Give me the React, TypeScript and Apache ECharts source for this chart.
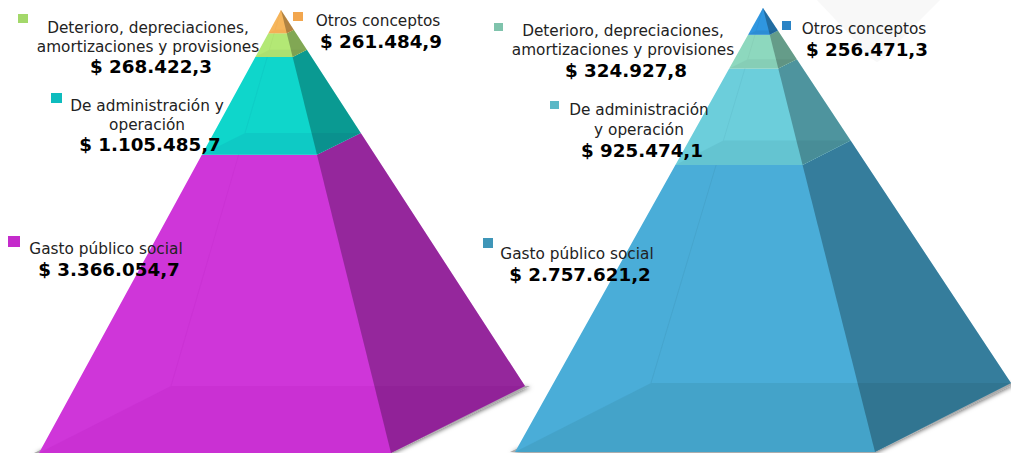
import React, { useEffect, useRef } from "react";
import * as echarts from "echarts";

// Bottom-to-top stacking order
const leftValues = [3366054.7, 1105485.7, 268422.3, 261484.9];
const rightValues = [2757621.2, 925474.1, 324927.8, 256471.3];
const leftValueLabels = ["$ 3.366.054,7", "$ 1.105.485,7", "$ 268.422,3", "$ 261.484,9"];
const rightValueLabels = ["$ 2.757.621,2", "$ 925.474,1", "$ 324.927,8", "$ 256.471,3"];
const leftNames = [["Gasto público social"], ["De administración y", "operación"], ["Deterioro, depreciaciones,", "amortizaciones y provisiones"], ["Otros conceptos"]];
const rightNames = [["Gasto público social"], ["De administración", "y operación"], ["Deterioro, depreciaciones,", "amortizaciones y provisiones"], ["Otros conceptos"]];
const leftColors = ["#CF36D9", "#0FD6CB", "#B3E875", "#F6B65C"];
const rightColors = ["#4AADD8", "#6CCEDB", "#8DD8BE", "#2F96E0"];
const leftSwatches = ["#C42BCB", "#0EBCBE", "#A3D86A", "#F2A64E"];
const rightSwatches = ["#3F96B8", "#5BB8C6", "#7FC3AC", "#2A83C5"];

// Layout: pixel frame of each pyramid and its text blocks
const leftFrame = { apex: 281, fl: 39, fr: 391, br: 525, bl: 171, top: 10, bottom: 453, back: 386 };
const rightFrame = { apex: 763, fl: 515, fr: 875, br: 1011, bl: 651, top: 8, bottom: 452, back: 383 };
const leftLayout = [
  { sw: [8, 236, 12, 11], x: [106], y: [249], vx: 109, vy: 269 },
  { sw: [51, 93, 11, 10], x: [147, 147], y: [106, 125], vx: 150, vy: 144 },
  { sw: [18, 14, 10, 9], x: [148, 148], y: [28, 47], vx: 151, vy: 66 },
  { sw: [293, 12, 10, 9], x: [378], y: [21], vx: 381, vy: 41 },
];
const rightLayout = [
  { sw: [483, 238, 10, 10], x: [577], y: [254], vx: 580, vy: 274 },
  { sw: [550, 101, 9, 8], x: [639, 639], y: [110, 130], vx: 642, vy: 150 },
  { sw: [494, 23, 9, 8], x: [623, 623], y: [31, 50], vx: 626, vy: 70 },
  { sw: [782, 21, 9, 9], x: [864], y: [29], vx: 867, vy: 49 },
];
const W = 1011;
const H = 453;
const FONT = "'DejaVu Sans', Verdana, sans-serif";

function pyramidSeries(values: number[], colors: string[], swatches: string[], f: any, gridIndex: number) {
  const total = values.reduce((a, b) => a + b, 0);
  const w = f.br - f.fl;
  const apexX = (f.apex - f.fl) / w;
  const corner = {
    fl: [0, 1],
    fr: [(f.fr - f.fl) / w, 1],
    br: [1, (f.back - f.top) / (f.bottom - f.top)],
    bl: [(f.bl - f.fl) / w, (f.back - f.top) / (f.bottom - f.top)],
  };
  let acc = total;
  const rows = values.map((v, i) => {
    const start = acc; // lower edge, measured from the apex
    acc -= v;
    return [i, acc, start];
  });
  return {
    type: "custom",
    coordinateSystem: "cartesian2d",
    xAxisIndex: gridIndex,
    yAxisIndex: gridIndex,
    clip: false,
    silent: true,
    data: rows,
    renderItem: (_: any, api: any) => {
      const i = api.value(0);
      const t0 = api.value(1) / total;
      const t1 = api.value(2) / total;
      const pt = (c: number[], t: number) =>
        api.coord([apexX + t * (c[0] - apexX), t * c[1] * total]);
      const FLb = pt(corner.fl, t1), FRb = pt(corner.fr, t1), BRb = pt(corner.br, t1), BLb = pt(corner.bl, t1);
      const FLt = pt(corner.fl, t0), FRt = pt(corner.fr, t0), BRt = pt(corner.br, t0), BLt = pt(corner.bl, t0);
      const children: any[] = [];
      if (i === 0) {
        children.push({
          type: "polygon",
          shape: { points: [[FLb[0] - 5, FLb[1]], FRb, [BRb[0] + 5, BRb[1]], BLb] },
          style: { fill: "#aaa", shadowColor: "rgba(0,0,0,0.55)", shadowBlur: 4, shadowOffsetX: 1, shadowOffsetY: 1 },
        });
      }
      children.push(
        { type: "polygon", shape: { points: [FLb, FRb, BRb, BRt, FRt, FLt] }, style: { fill: colors[i] } },
        { type: "polygon", shape: { points: [FLb, FRb, BRb, BLb] }, style: { fill: swatches[i], opacity: 0.45 } },
        { type: "polygon", shape: { points: [FRb, BRb, BRt, FRt] }, style: { fill: "rgba(0,0,0,0.28)" } },
        { type: "line", shape: { x1: BLb[0], y1: BLb[1], x2: BLt[0], y2: BLt[1] }, style: { stroke: swatches[i], opacity: 0.35, lineWidth: 1 } }
      );
      return { type: "group", children };
    },
  };
}

function textBlocks(names: string[][], labels: string[], swatches: string[], layout: any[]) {
  const out: any[] = [];
  names.forEach((lines, i) => {
    const l = layout[i];
    out.push({ type: "rect", z: 10, shape: { x: l.sw[0], y: l.sw[1], width: l.sw[2], height: l.sw[3] }, style: { fill: swatches[i] } });
    lines.forEach((line, k) => {
      out.push({
        type: "text", z: 10, x: l.x[k], y: l.y[k],
        style: { text: line, fill: "#222", font: `15.3px ${FONT}`, align: "center", verticalAlign: "middle" },
      });
    });
    out.push({
      type: "text", z: 10, x: l.vx, y: l.vy,
      style: { text: labels[i], fill: "#000", font: `bold 18.3px ${FONT}`, align: "center", verticalAlign: "middle" },
    });
  });
  return out;
}

function axisPair(f: any, values: number[], idx: number) {
  const total = values.reduce((a, b) => a + b, 0);
  return {
    grid: { left: f.fl, top: f.top, width: f.br - f.fl, height: f.bottom - f.top },
    xAxis: { type: "value", gridIndex: idx, min: 0, max: 1, show: false },
    yAxis: { type: "value", gridIndex: idx, min: 0, max: total, inverse: true, show: false },
  };
}

export default function App() {
  const ref = useRef<HTMLDivElement>(null);
  useEffect(() => {
    const chart = echarts.init(ref.current!, undefined, { renderer: "svg" });
    const a = axisPair(leftFrame, leftValues, 0);
    const b = axisPair(rightFrame, rightValues, 1);
    chart.setOption({
      animation: false,
      backgroundColor: "#fff",
      grid: [a.grid, b.grid],
      xAxis: [a.xAxis, b.xAxis],
      yAxis: [a.yAxis, b.yAxis],
      series: [
        pyramidSeries(leftValues, leftColors, leftSwatches, leftFrame, 0),
        pyramidSeries(rightValues, rightColors, rightSwatches, rightFrame, 1),
      ],
      graphic: [
        {
          type: "polygon", z: 0,
          shape: { points: [[817, 0], [940, 0], [905, 35], [884, 58], [877, 62], [870, 58], [850, 35]] },
          style: { fill: "#F8F8F8" },
        },
        ...textBlocks(leftNames, leftValueLabels, leftSwatches, leftLayout),
        ...textBlocks(rightNames, rightValueLabels, rightSwatches, rightLayout),
      ],
    });
    return () => chart.dispose();
  }, []);
  return <div ref={ref} style={{ width: W, height: H, position: "absolute", left: 0, top: 0 }} />;
}
